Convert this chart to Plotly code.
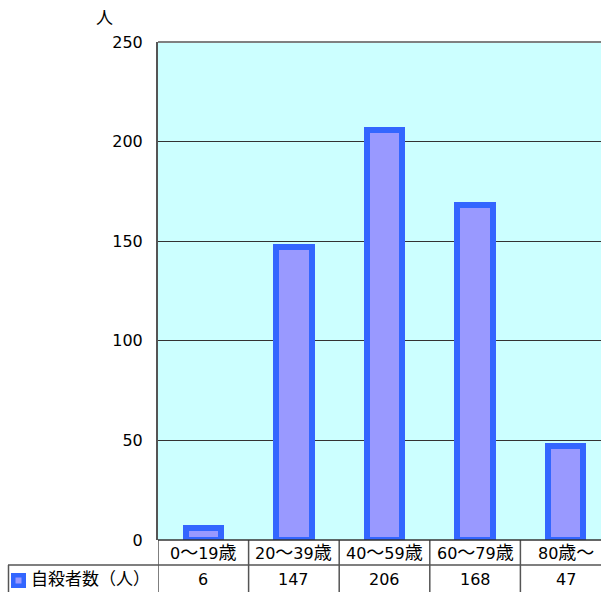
import plotly.graph_objects as go

categories = ["0〜19歳", "20〜39歳", "40〜59歳", "60〜79歳", "80歳〜"]
values = [6, 147, 206, 168, 47]
series_name = "自殺者数（人）"
y_ticks = [0, 50, 100, 150, 200, 250]
unit_label = "人"

W, H = 601, 592
L, R, T, B = 158, 0, 42, 52
PW = W - L - R
PH = H - T - B
CAT_PX = 90.6
xmax = -0.5 + PW / CAT_PX

FONT = "DejaVu Sans, Noto Sans CJK JP"
fs = 16


def wide(s, size=18):
    out = ""
    for ch in s:
        if ord(ch) > 127:
            out += f'<span style="font-size:{size}px">{ch}</span>'
        else:
            out += ch
    return out


def py(px):  # pixel y -> paper y
    return (H - B - px) / PH


def px_x(px):  # pixel x -> paper x
    return (px - L) / PW


xs = list(range(len(categories)))

fig = go.Figure()
fig.add_trace(go.Bar(
    x=xs, y=values, width=0.39,
    marker=dict(color="#9999FF", line=dict(color="#3366FF", width=6)),
    name=series_name, showlegend=False, hoverinfo="skip",
))

shapes = []
line_col = "#555555"
shapes.append(dict(type="line", xref="paper", yref="paper",
                   x0=px_x(8), x1=1.02, y0=py(565), y1=py(565),
                   line=dict(color=line_col, width=1.5)))
shapes.append(dict(type="line", xref="paper", yref="paper",
                   x0=px_x(8.5), x1=px_x(8.5), y0=py(565), y1=py(600),
                   line=dict(color=line_col, width=1.5)))
for i in range(len(categories)):
    shapes.append(dict(type="line", xref="x", yref="paper",
                       x0=i - 0.5, x1=i - 0.5, y0=0, y1=py(600),
                       line=dict(color=line_col, width=1.5)))
shapes.append(dict(type="line", xref="paper", yref="paper",
                   x0=0, x1=1.02, y0=0, y1=0,
                   line=dict(color="#333333", width=1.5)))
shapes.append(dict(type="rect", xref="paper", yref="paper",
                   x0=px_x(11), x1=px_x(26), y0=py(588), y1=py(573),
                   fillcolor="#3366FF", line=dict(width=0)))
shapes.append(dict(type="rect", xref="paper", yref="paper",
                   x0=px_x(15.5), x1=px_x(21.5), y0=py(583.5), y1=py(577.5),
                   fillcolor="#9999FF", line=dict(width=0)))
shapes.append(dict(type="line", xref="paper", yref="paper", x0=0, x1=1.02, y0=1, y1=1,
                   line=dict(color="#808080", width=2)))

annotations = []
for i, (c, v) in enumerate(zip(categories, values)):
    annotations.append(dict(x=i, y=py(552.5), xref="x", yref="paper", text=wide(c),
                            showarrow=False, font=dict(family=FONT, size=fs, color="black"),
                            xanchor="center", yanchor="middle"))
    annotations.append(dict(x=i, y=py(579), xref="x", yref="paper", text=str(v),
                            showarrow=False, font=dict(family=FONT, size=fs, color="black"),
                            xanchor="center", yanchor="middle"))
annotations.append(dict(x=px_x(29), y=py(579), xref="paper", yref="paper", text=wide(series_name, 17),
                        showarrow=False, font=dict(family=FONT, size=fs, color="black"),
                        xanchor="left", yanchor="middle"))
annotations.append(dict(x=px_x(104), y=py(18), xref="paper", yref="paper", text=unit_label,
                        showarrow=False, font=dict(family=FONT, size=17, color="black"),
                        xanchor="center", yanchor="middle"))

fig.update_layout(
    width=W, height=H,
    margin=dict(l=L, r=R, t=T, b=B, pad=0),
    paper_bgcolor="white", plot_bgcolor="#CCFFFF",
    font=dict(family=FONT, size=fs, color="black"),
    bargap=0,
    xaxis=dict(range=[-0.5, xmax], showticklabels=False, showgrid=False,
               zeroline=False, showline=False, ticks="", fixedrange=True),
    yaxis=dict(range=[0, 250], tickvals=y_ticks, showgrid=True, gridcolor="#333333",
               gridwidth=1, zeroline=False, showline=True, linecolor="#555555",
               linewidth=2, mirror=False, ticks="", ticklabelstandoff=10,
               fixedrange=True,
               tickfont=dict(family=FONT, size=fs, color="black")),
    shapes=shapes, annotations=annotations,
)

fig.write_html("out.html", config={"displayModeBar": False},
               post_script="document.body.style.margin='0';document.body.style.overflow='hidden';")
